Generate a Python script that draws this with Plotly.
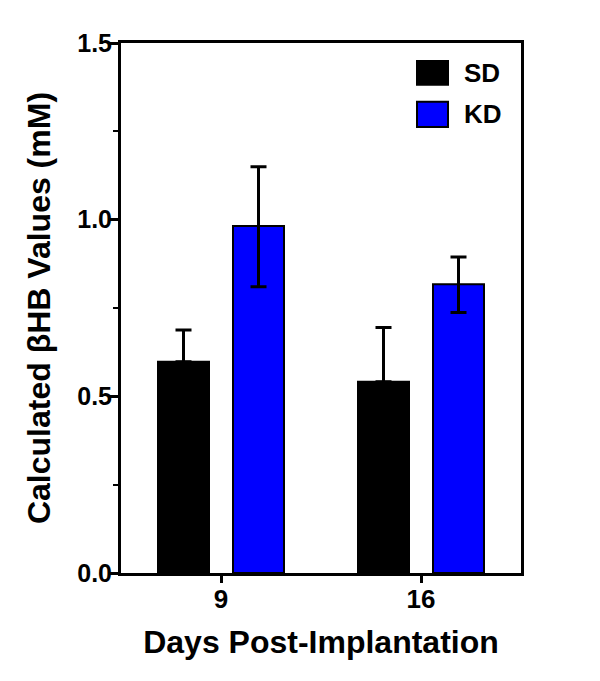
import plotly.graph_objects as go

categories = ["9", "16"]
sd_values = [0.598, 0.541]
sd_err_plus = [0.090, 0.154]
kd_values = [0.982, 0.817]
kd_err_plus = [0.168, 0.077]
kd_err_minus = [0.172, 0.080]
y_ticks = [0.0, 0.5, 1.0, 1.5]
y_tick_labels = ["0.0", "0.5", "1.0", "1.5"]
y_minor_ticks = [0.25, 0.75, 1.25]

FONT = "Liberation Sans, Arial, sans-serif"

fig = go.Figure()
fig.add_trace(go.Bar(
    x=categories, y=sd_values, name="SD",
    marker=dict(color="#000000", line=dict(color="#000000", width=2)),
    error_y=dict(type="data", symmetric=False, array=sd_err_plus,
                 arrayminus=[0, 0], color="#000000", thickness=3, width=8),
    showlegend=False,
))
fig.add_trace(go.Bar(
    x=categories, y=kd_values, name="KD",
    marker=dict(color="#0000FF", line=dict(color="#000000", width=2)),
    error_y=dict(type="data", symmetric=False, array=kd_err_plus,
                 arrayminus=kd_err_minus, color="#000000", thickness=3, width=8),
    showlegend=False,
))

# manual legend
legend_items = [("SD", "#000000", 0.966, 0.921), ("KD", "#0000FF", 0.889, 0.8415)]
for name, col, y1, y0 in legend_items:
    fig.add_shape(type="rect", xref="paper", yref="paper",
                  x0=0.74, x1=0.8175, y0=y0, y1=y1,
                  fillcolor=col, line=dict(color="#000000", width=2))
    fig.add_annotation(xref="paper", yref="paper", x=0.852, y=(y0 + y1) / 2,
                       text=name, showarrow=False, xanchor="left", yanchor="middle",
                       font=dict(family=FONT, size=26, color="#000000", weight="bold"))

# page has an 8px body margin; compensate so the plot lands where the reference has it
fig.update_layout(
    width=600, height=681,
    margin=dict(l=113, r=87, t=35, b=116),
    paper_bgcolor="white", plot_bgcolor="white",
    barmode="group", bargap=0.25, bargroupgap=0.32,
    font=dict(family=FONT, color="#000000"),
)
fig.update_xaxes(
    type="category", range=[-0.5, 1.5],
    showline=True, linecolor="#000000", linewidth=3, mirror=True,
    ticks="outside", ticklen=7, tickwidth=3, tickcolor="#000000",
    ticklabelstandoff=-6,
    tickfont=dict(family=FONT, size=26, color="#000000", weight="bold"),
    title=dict(text="Days Post-Implantation", standoff=18,
               font=dict(family=FONT, size=32, color="#000000", weight="bold")),
    showgrid=False, zeroline=False,
)
fig.update_yaxes(
    range=[0, 1.5], tickvals=y_ticks, ticktext=y_tick_labels,
    showline=True, linecolor="#000000", linewidth=3, mirror=True,
    ticks="outside", ticklen=8, tickwidth=3, tickcolor="#000000",
    ticklabelstandoff=-7,
    tickfont=dict(family=FONT, size=25, color="#000000", weight="bold"),
    minor=dict(tickvals=y_minor_ticks, ticks="outside", ticklen=5,
               tickwidth=2, tickcolor="#000000", showgrid=False),
    title=dict(text="Calculated βHB Values (mM)", standoff=18,
               font=dict(family=FONT, size=32, color="#000000", weight="bold")),
    showgrid=False, zeroline=False,
)

fig.write_html("out.html")
